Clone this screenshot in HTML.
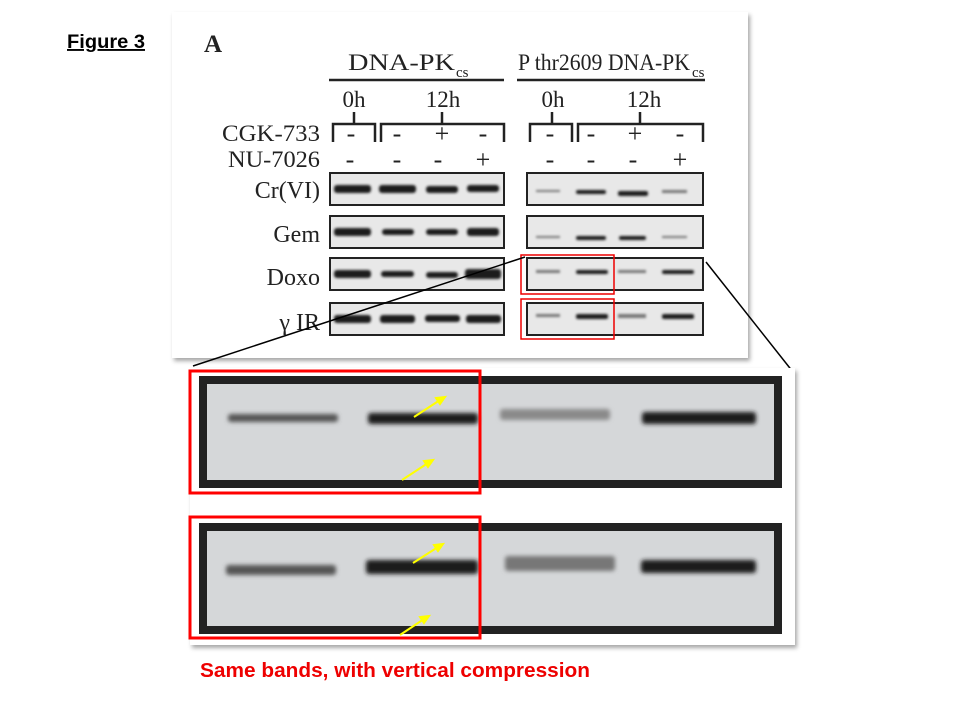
<!DOCTYPE html>
<html><head><meta charset="utf-8"><style>
html,body{margin:0;padding:0;background:#fff;width:960px;height:720px;overflow:hidden}
svg{display:block}
.s{font-family:"Liberation Serif",serif;fill:#222}
</style></head><body>
<svg width="960" height="720" viewBox="0 0 960 720" xmlns="http://www.w3.org/2000/svg">
<defs>
<filter id="sh" x="-5%" y="-5%" width="110%" height="110%"><feDropShadow dx="2" dy="3" stdDeviation="2" flood-color="#000" flood-opacity="0.35"/></filter>
<filter id="bl"><feGaussianBlur stdDeviation="1.2"/></filter>
<filter id="bl2"><feGaussianBlur stdDeviation="2"/></filter>
</defs>
<text x="67" y="48" font-family="Liberation Sans,sans-serif" font-weight="bold" font-size="19" text-decoration="underline" fill="#000" textLength="78" lengthAdjust="spacingAndGlyphs">Figure 3</text>
<rect x="172" y="12" width="576" height="346" fill="#fff" filter="url(#sh)"/>
<text x="204" y="52" class="s" font-size="25" font-weight="bold">A</text>
<text x="348" y="70" class="s" font-size="23" textLength="107" lengthAdjust="spacingAndGlyphs">DNA-PK</text>
<text x="456" y="77" class="s" font-size="15">cs</text>
<text x="518" y="70" class="s" font-size="23" textLength="172" lengthAdjust="spacingAndGlyphs">P thr2609 DNA-PK</text>
<text x="692" y="77" class="s" font-size="15">cs</text>
<line x1="329" y1="80" x2="504" y2="80" stroke="#222" stroke-width="2.5"/>
<line x1="517" y1="80" x2="705" y2="80" stroke="#222" stroke-width="2.5"/>
<text x="354" y="107" class="s" font-size="23" text-anchor="middle">0h</text>
<text x="443" y="107" class="s" font-size="23" text-anchor="middle">12h</text>
<text x="553" y="107" class="s" font-size="23" text-anchor="middle">0h</text>
<text x="644" y="107" class="s" font-size="23" text-anchor="middle">12h</text>
<g stroke="#222" stroke-width="2.5" fill="none">
<path d="M354 112V124M333 142V124H375V142M381 142V124H504V142M442 112V124"/>
<path d="M552 112V124M530 142V124H572V142M578 142V124H703V142M640 112V124"/>
</g>
<text x="222" y="141" class="s" font-size="23" textLength="98" lengthAdjust="spacingAndGlyphs">CGK-733</text>
<text x="228" y="167" class="s" font-size="23" textLength="92" lengthAdjust="spacingAndGlyphs">NU-7026</text>
<g class="s" font-size="26" text-anchor="middle">
<text x="351" y="142">-</text><text x="397" y="142">-</text><text x="442" y="142">+</text><text x="483" y="142">-</text>
<text x="350" y="168">-</text><text x="397" y="168">-</text><text x="438" y="168">-</text><text x="483" y="168">+</text>
<text x="550" y="142">-</text><text x="591" y="142">-</text><text x="635" y="142">+</text><text x="680" y="142">-</text>
<text x="550" y="168">-</text><text x="591" y="168">-</text><text x="633" y="168">-</text><text x="680" y="168">+</text>
</g>
<g class="s" font-size="24" text-anchor="end">
<text x="320" y="198">Cr(VI)</text><text x="320" y="242">Gem</text><text x="320" y="285">Doxo</text><text x="320" y="330">γ IR</text>
</g>
<g fill="#e8e8e8" stroke="#222" stroke-width="2">
<rect x="330" y="173" width="174" height="32"/><rect x="330" y="216" width="174" height="32"/>
<rect x="330" y="258" width="174" height="32"/><rect x="330" y="303" width="174" height="32"/>
<rect x="527" y="173" width="176" height="32"/><rect x="527" y="216" width="176" height="32"/>
<rect x="527" y="258" width="176" height="32"/><rect x="527" y="303" width="176" height="32"/>
</g>
<g fill="#1a1a1a" filter="url(#bl)">
<rect x="334" y="185" width="37" height="8" rx="3"/><rect x="379" y="185" width="37" height="8" rx="3"/><rect x="426" y="186" width="32" height="7" rx="3"/><rect x="467" y="185" width="32" height="7" rx="3"/>
<rect x="334" y="228" width="37" height="8" rx="3"/><rect x="382" y="229" width="32" height="6" rx="3"/><rect x="426" y="229" width="32" height="6" rx="3"/><rect x="467" y="228" width="32" height="8" rx="3"/>
<rect x="334" y="270" width="37" height="8" rx="3"/><rect x="381" y="271" width="33" height="6" rx="3"/><rect x="426" y="272" width="32" height="6" rx="3"/><rect x="465" y="269" width="36" height="10" rx="3"/>
<rect x="334" y="315" width="37" height="8" rx="3"/><rect x="380" y="315" width="35" height="8" rx="3"/><rect x="425" y="315" width="35" height="7" rx="3"/><rect x="466" y="315" width="35" height="8" rx="3"/>
<rect x="576" y="190" width="30" height="4" rx="2"/><rect x="618" y="191" width="30" height="5" rx="2"/>
<rect x="576" y="236" width="30" height="4" rx="2"/><rect x="619" y="236" width="27" height="4" rx="2"/>
<rect x="576" y="270" width="32" height="4" rx="2"/><rect x="662" y="270" width="32" height="4" rx="2"/>
<rect x="576" y="314" width="32" height="5" rx="2"/><rect x="662" y="314" width="32" height="5" rx="2"/>
</g>
<g fill="#777" filter="url(#bl)">
<rect x="536" y="190" width="24" height="2"/><rect x="662" y="190" width="25" height="3"/>
<rect x="536" y="236" width="24" height="2"/><rect x="662" y="236" width="25" height="2"/>
<rect x="536" y="270" width="24" height="3"/><rect x="618" y="270" width="28" height="3"/>
<rect x="536" y="314" width="24" height="3"/><rect x="618" y="314" width="28" height="4"/>
</g>
<rect x="521" y="255" width="93" height="39" fill="none" stroke="#e00" stroke-width="1.5"/>
<rect x="521" y="299" width="93" height="40" fill="none" stroke="#e00" stroke-width="1.5"/>
<line x1="525" y1="257" x2="193" y2="366" stroke="#000" stroke-width="1.5"/>
<line x1="706" y1="262" x2="793" y2="372" stroke="#000" stroke-width="1.5"/>

<rect x="190" y="368" width="605" height="277" fill="#fff" filter="url(#sh)"/>
<g>
<rect x="203" y="380" width="575" height="104" fill="#d5d7d9" stroke="#222" stroke-width="8"/>
<rect x="203" y="527" width="575" height="103" fill="#d5d7d9" stroke="#222" stroke-width="8"/>
</g>
<g fill="#1a1a1a" filter="url(#bl2)">
<rect x="368" y="413" width="110" height="11" rx="3"/><rect x="642" y="412" width="114" height="12" rx="3"/>
<rect x="366" y="560" width="112" height="14" rx="3"/><rect x="641" y="560" width="115" height="13" rx="3"/>
</g>
<g fill="#555" filter="url(#bl2)">
<rect x="228" y="414" width="110" height="8" rx="3"/><rect x="500" y="409" width="110" height="11" rx="3" fill="#8a8a8a"/>
<rect x="226" y="565" width="110" height="10" rx="3"/><rect x="505" y="556" width="110" height="15" rx="3" fill="#777"/>
</g>
<rect x="190" y="371" width="290" height="122" fill="none" stroke="#f00" stroke-width="3"/>
<rect x="190" y="517" width="290" height="121" fill="none" stroke="#f00" stroke-width="3"/>
<g stroke="#ff0" stroke-width="2" fill="#ff0">
<line x1="414" y1="417" x2="440" y2="400"/><path d="M445 397l-9 1 4 6z"/>
<line x1="402" y1="480" x2="428" y2="463"/><path d="M433 460l-9 1 4 6z"/>
<line x1="413" y1="563" x2="438" y2="547"/><path d="M443 544l-9 1 4 6z"/>
<line x1="400" y1="635" x2="424" y2="619"/><path d="M429 616l-9 1 4 6z"/>
</g>
<text x="200" y="677" font-family="Liberation Sans,sans-serif" font-weight="bold" font-size="20" fill="#e00" textLength="390" lengthAdjust="spacingAndGlyphs">Same bands, with vertical compression</text>
</svg>
</body></html>
